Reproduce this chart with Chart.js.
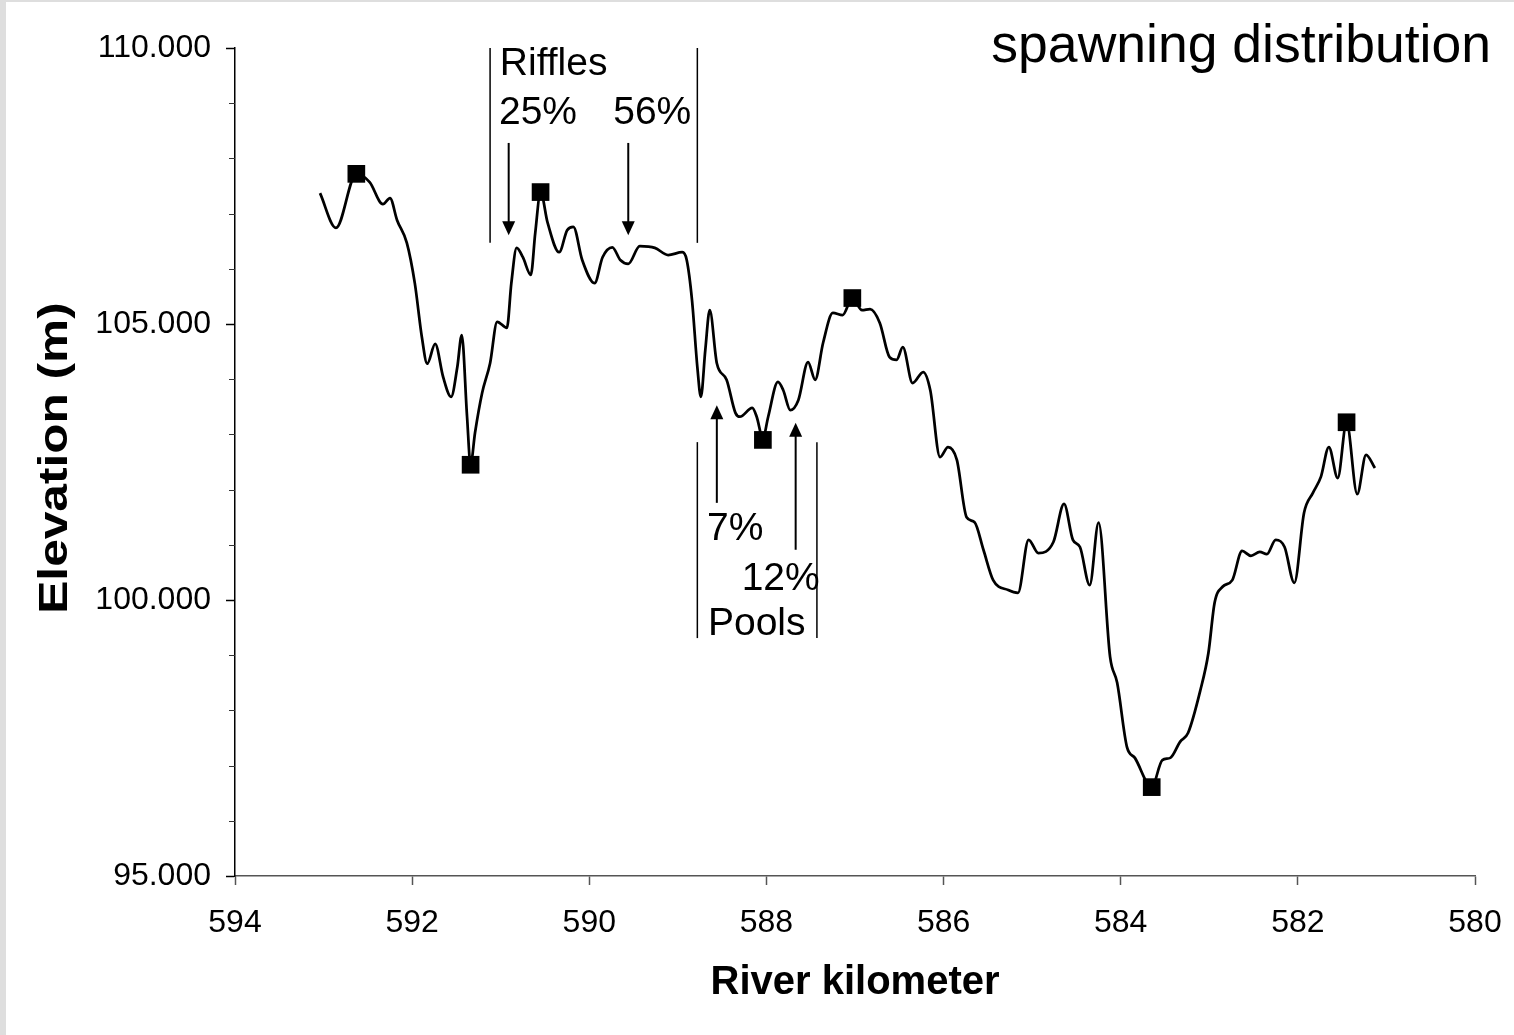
<!DOCTYPE html>
<html>
<head>
<meta charset="utf-8">
<title>spawning distribution</title>
<script src="https://cdn.jsdelivr.net/npm/chart.js@4.4.1/dist/chart.umd.min.js"></script>
<style>
  html, body { margin: 0; padding: 0; background: #dedede; overflow: hidden; }
  #wrap { position: absolute; left: 6px; top: 2px; width: 1508px; height: 1033px; background: #fff; }
</style>
</head>
<body>
<div id="wrap"><canvas id="chart" width="1508" height="1033"></canvas></div>
<script>
// ===== DATA (river profile) =====

const riverKm = [
    593.04, 592.86, 592.63, 592.48, 592.33, 592.25, 592.17, 592.06, 591.97, 591.89,
    591.83, 591.74, 591.65, 591.56, 591.49, 591.44, 591.38, 591.34, 591.29, 591.21,
    591.12, 591.04, 590.93, 590.88, 590.82, 590.75, 590.66, 590.61, 590.55, 590.47,
    590.34, 590.25, 590.18, 590.08, 589.94, 589.85, 589.74, 589.65, 589.56, 589.43,
    589.26, 589.11, 588.95, 588.90, 588.84, 588.78, 588.74, 588.69, 588.64, 588.56,
    588.45, 588.35, 588.30, 588.16, 588.11, 588.04, 587.98, 587.87, 587.81, 587.73,
    587.64, 587.53, 587.45, 587.36, 587.25, 587.14, 587.03, 586.92, 586.83, 586.72,
    586.61, 586.53, 586.46, 586.35, 586.23, 586.15, 586.04, 585.95, 585.85, 585.74,
    585.65, 585.55, 585.44, 585.27, 585.16, 585.04, 584.93, 584.76, 584.64, 584.54,
    584.46, 584.35, 584.25, 584.12, 584.04, 583.93, 583.84, 583.65, 583.53, 583.44,
    583.33, 583.24, 583.10, 583.01, 582.94, 582.85, 582.74, 582.63, 582.53, 582.43,
    582.35, 582.25, 582.15, 582.04, 581.93, 581.83, 581.74, 581.65, 581.55, 581.45,
    581.33, 581.23, 581.13
];

const elevation = [
    107.37, 106.74, 107.72, 107.57, 107.17, 107.28, 106.88, 106.47, 105.74, 104.76,
    104.28, 104.64, 104.04, 103.68, 104.22, 104.80, 103.32, 102.45, 103.03, 103.75,
    104.29, 105.04, 104.93, 105.74, 106.38, 106.21, 105.89, 106.65, 107.39, 106.83,
    106.30, 106.70, 106.76, 106.16, 105.74, 106.21, 106.39, 106.16, 106.09, 106.41,
    106.38, 106.25, 106.30, 106.16, 105.43, 104.22, 103.68, 104.53, 105.25, 104.29,
    103.99, 103.39, 103.32, 103.48, 103.32, 102.93, 103.32, 103.95, 103.80, 103.44,
    103.62, 104.31, 103.99, 104.66, 105.20, 105.16, 105.47, 105.25, 105.27, 105.02,
    104.40, 104.35, 104.58, 103.93, 104.13, 103.80, 102.59, 102.77, 102.54, 101.50,
    101.41, 100.91, 100.36, 100.18, 100.13, 101.09, 100.85, 101.05, 101.74, 101.09,
    100.96, 100.27, 101.40, 98.97, 98.50, 97.34, 97.14, 96.61, 97.10, 97.14,
    97.43, 97.59, 98.37, 99.04, 99.95, 100.24, 100.36, 100.89, 100.80, 100.87,
    100.83, 101.09, 100.96, 100.31, 101.58, 101.94, 102.23, 102.77, 102.21, 103.22,
    101.92, 102.63, 102.39
];

// highs and lows marked with squares
const markKm = [592.63, 591.34, 590.55, 588.04, 587.03, 583.65, 581.45];
const markElev = [107.72, 102.45, 107.39, 102.90, 105.47, 96.61, 103.22];

// riffle / pool boundaries (km, top and bottom elevation)
const zoneKm = [591.12, 588.78, 588.78, 587.43];
const zoneTop = [110.0, 110.0, 102.86, 102.86];
const zoneBottom = [106.47, 106.47, 99.31, 99.31];

// arrows (km, tail elevation, tip elevation)
const arrowKm = [590.91, 589.56, 588.56, 587.67];
const arrowTail = [108.28, 108.28, 101.76, 100.91];
const arrowTip = [106.61, 106.61, 103.53, 103.21];

// annotation texts (left edge km, baseline elevation)
const noteText = ["Riffles", "25%", "56%", "7%", "12%", "Pools"];
const noteKm = [591.01, 591.02, 589.73, 588.67, 588.28, 588.66];
const noteElev = [109.51, 108.62, 108.62, 101.09, 100.18, 99.37];

const yMin = 95, yMax = 110, yStep = 5;
const xMin = 580, xMax = 594, xStep = 2;

const FONT = '"Liberation Sans", Arial, sans-serif';

// ===== PLUGIN: minor ticks, annotations, titles =====

const extras = {
    id: "extras",
    afterDraw(chart) {
        const ctx = chart.ctx;
        const xs = chart.scales.x;
        const ys = chart.scales.y;
        const area = chart.chartArea;

        ctx.save();

        // minor ticks on the elevation axis
        ctx.strokeStyle = "#333";
        ctx.lineWidth = 1;
        for (let v = yMin + 1; v < yMax; v++) {
            if (v % yStep === 0) continue;
            const py = Math.round(ys.getPixelForValue(v)) + 0.5;
            ctx.beginPath();
            ctx.moveTo(area.left - 6, py);
            ctx.lineTo(area.left, py);
            ctx.stroke();
        }

        // zone boundaries
        ctx.strokeStyle = "#000";
        ctx.lineWidth = 1.5;
        zoneKm.forEach((k, i) => {
            const px = xs.getPixelForValue(k);
            ctx.beginPath();
            ctx.moveTo(px, ys.getPixelForValue(zoneTop[i]));
            ctx.lineTo(px, ys.getPixelForValue(zoneBottom[i]));
            ctx.stroke();
        });

        // arrows
        ctx.fillStyle = "#000";
        arrowKm.forEach((k, i) => {
            const px = xs.getPixelForValue(k);
            const y0 = ys.getPixelForValue(arrowTail[i]);
            const y1 = ys.getPixelForValue(arrowTip[i]);
            const dir = y1 > y0 ? 1 : -1;
            ctx.lineWidth = 2;
            ctx.beginPath();
            ctx.moveTo(px, y0);
            ctx.lineTo(px, y1 - dir * 10);
            ctx.stroke();
            ctx.beginPath();
            ctx.moveTo(px, y1);
            ctx.lineTo(px - 6.5, y1 - dir * 14);
            ctx.lineTo(px + 6.5, y1 - dir * 14);
            ctx.closePath();
            ctx.fill();
        });

        // texts
        ctx.font = "39px " + FONT;
        ctx.textAlign = "left";
        ctx.textBaseline = "alphabetic";
        noteText.forEach((t, i) => {
            ctx.fillText(t, xs.getPixelForValue(noteKm[i]), ys.getPixelForValue(noteElev[i]));
        });

        // chart title, top right
        ctx.font = "53.5px " + FONT;
        ctx.textAlign = "right";
        ctx.fillText("spawning distribution", chart.width - 23, 60);

        // elevation axis title (drawn wide, as in the original)
        ctx.translate(50, (area.top + area.bottom) / 2 - 4);
        ctx.rotate(-Math.PI / 2);
        ctx.scale(1.24, 1);
        ctx.font = "bold 40px " + FONT;
        ctx.textAlign = "center";
        ctx.textBaseline = "middle";
        ctx.fillText("Elevation (m)", 0, 0);

        ctx.restore();
    }
};

// ===== CHART =====

new Chart(document.getElementById("chart"), {
    type: "scatter",
    data: {
        datasets: [
            {
                data: markKm.map((k, i) => ({ x: k, y: markElev[i] })),
                pointStyle: "rect",
                pointRadius: 12.5,
                pointBackgroundColor: "#000",
                pointBorderWidth: 0,
                showLine: false
            },
            {
                data: riverKm.map((k, i) => ({ x: k, y: elevation[i] })),
                showLine: true,
                borderColor: "#000",
                borderWidth: 2.75,
                pointRadius: 0,
                tension: 0.4,
                cubicInterpolationMode: "monotone"
            }
        ]
    },
    options: {
        responsive: false,
        animation: false,
        devicePixelRatio: 1,
        layout: { padding: { left: 0, top: 46, right: 39, bottom: 0 } },
        plugins: {
            legend: { display: false },
            tooltip: { enabled: false }
        },
        scales: {
            x: {
                type: "linear",
                reverse: true,
                min: xMin,
                max: xMax,
                afterFit(scale) {
                    scale.height = 159;
                    scale.paddingLeft = 0;
                    scale.paddingRight = 0;
                },
                border: { display: true, color: "#555", width: 1.5 },
                grid: { drawOnChartArea: false, tickLength: 9, tickColor: "#555", tickWidth: 1.5 },
                ticks: {
                    stepSize: xStep,
                    padding: 19,
                    color: "#000",
                    font: { family: FONT, size: 32 },
                    callback: v => String(v)
                },
                title: {
                    display: true,
                    text: "River kilometer",
                    color: "#000",
                    padding: { top: 0, bottom: 28 },
                    font: { family: FONT, size: 40, weight: "bold" }
                }
            },
            y: {
                min: yMin,
                max: yMax,
                afterFit(scale) {
                    scale.width = 229;
                    scale.paddingTop = 0;
                    scale.paddingBottom = 0;
                },
                border: { display: true, color: "#000", width: 1.5 },
                grid: { drawOnChartArea: false, tickLength: 9, tickColor: "#000", tickWidth: 1.5 },
                ticks: {
                    stepSize: yStep,
                    padding: 15,
                    color: "#000",
                    font: { family: FONT, size: 32 },
                    callback: v => v.toFixed(3)
                },
                title: { display: false }
            }
        }
    },
    plugins: [extras]
});
</script>
</body>
</html>
